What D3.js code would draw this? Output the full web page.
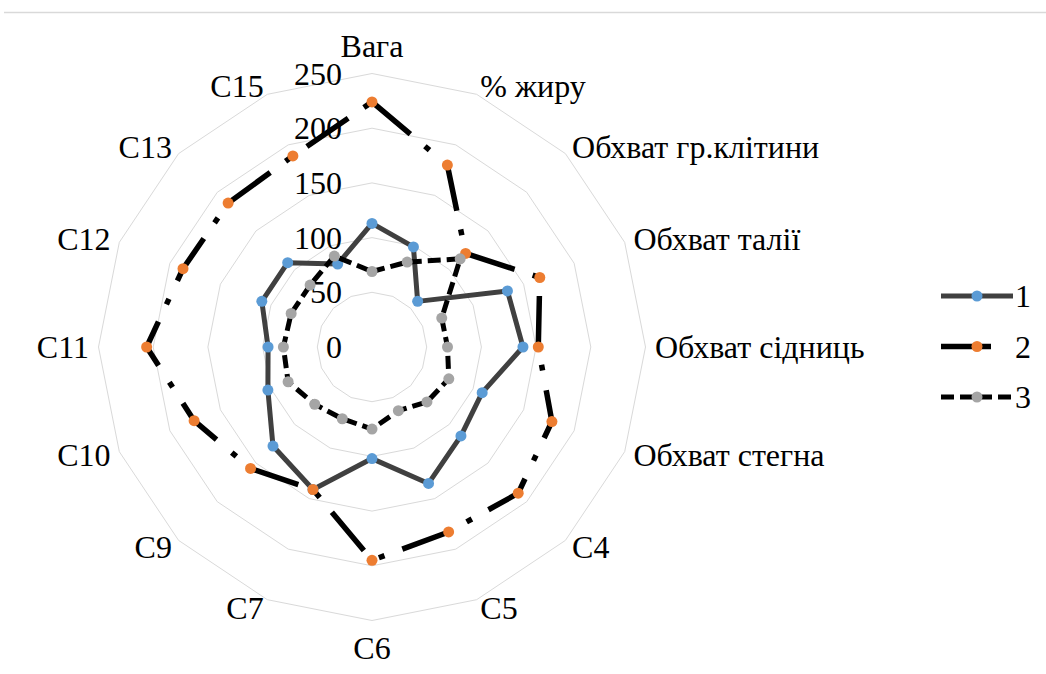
<!DOCTYPE html>
<html>
<head>
<meta charset="utf-8">
<script src="https://cdnjs.cloudflare.com/ajax/libs/d3/7.8.5/d3.min.js"></script>
<style>
  body { margin: 0; background: #fff; }
  text { font-family: "Liberation Serif", "Times New Roman", serif; fill: #000; }
</style>
</head>
<body>
<div id="chart"></div>
<script>
// categories around the radar, clockwise from the top
var categories = ["Вага", "% жиру", "Обхват гр.клітини", "Обхват талії", "Обхват сідниць",
  "Обхват стегна", "C4", "C5", "C6", "C7", "C9", "C10", "C11", "C12", "C13", "C15"];

var series1 = [113, 99, 59, 134, 138, 109, 115, 135, 102, 141, 128, 103, 95, 109, 109, 82];
var series2 = [224, 180, 121, 166, 152, 178, 189, 183, 195, 141, 157, 176, 206, 187, 186, 189];
var series3 = [69, 84, 114, 69, 69, 76, 71, 63, 75, 71, 74, 83, 81, 80, 80, 90];

var seriesNames = ["1", "2", "3"];
var tickValues = [0, 50, 100, 150, 200, 250];

var width = 1046, height = 674;
var cx = 372, cy = 347;
var fontSize = 32;

var svg = d3.select("#chart").append("svg")
  .attr("width", width)
  .attr("height", height);

// thin top border line
svg.append("line")
  .attr("x1", 4).attr("x2", width)
  .attr("y1", 12.5).attr("y2", 12.5)
  .attr("stroke", "#d9d9d9")
  .attr("stroke-width", 1.5);

var r = d3.scaleLinear().domain([0, 250]).range([0, 273.5]);
var step = 2 * Math.PI / categories.length;

var g = svg.append("g")
  .attr("transform", "translate(" + cx + "," + cy + ")");

var radial = d3.lineRadial()
  .angle(function(d, i) { return i * step; })
  .radius(function(d) { return r(d); })
  .curve(d3.curveLinearClosed);

// grid rings
g.selectAll(".ring")
  .data(tickValues.filter(function(t) { return t > 0; }))
  .enter().append("path")
  .attr("class", "ring")
  .attr("d", function(t) { return radial(categories.map(function() { return t; })); })
  .attr("fill", "none")
  .attr("stroke", "#d9d9d9")
  .attr("stroke-width", 1);

// ring value labels
g.selectAll(".tick")
  .data(tickValues)
  .enter().append("text")
  .attr("class", "tick")
  .attr("x", -30)
  .attr("y", function(t) { return -r(t); })
  .attr("text-anchor", "end")
  .attr("dominant-baseline", "central")
  .style("font-size", fontSize + "px")
  .text(function(t) { return t; });

// category labels
var labelR = 283;
g.selectAll(".cat")
  .data(categories)
  .enter().append("text")
  .attr("class", "cat")
  .attr("x", function(d, i) { return labelR * Math.sin(i * step); })
  .attr("y", function(d, i) {
    var s = Math.sin(i * step), c = Math.cos(i * step);
    var y = -labelR * c;
    if (Math.abs(s) < 0.1) y -= c * 18;
    return y;
  })
  .attr("text-anchor", function(d, i) {
    var s = Math.sin(i * step);
    return s > 0.1 ? "start" : (s < -0.1 ? "end" : "middle");
  })
  .attr("dominant-baseline", "central")
  .style("font-size", fontSize + "px")
  .text(function(d) { return d; });

var styles = [
  {data: series1, line: "#404040", marker: "#5B9BD5", dash: null, width: 5},
  {data: series2, line: "#000000", marker: "#ED7D31", dash: "50 19 6 20", width: 5.5},
  {data: series3, line: "#000000", marker: "#A5A5A5", dash: "13 6", width: 5}
];

styles.forEach(function(s) {
  g.append("path")
    .attr("d", radial(s.data))
    .attr("fill", "none")
    .attr("stroke", s.line)
    .attr("stroke-width", s.width)
    .attr("stroke-dasharray", s.dash)
    .attr("stroke-linejoin", "round");

  g.selectAll(null)
    .data(s.data)
    .enter().append("circle")
    .attr("cx", function(d, i) { return r(d) * Math.sin(i * step); })
    .attr("cy", function(d, i) { return -r(d) * Math.cos(i * step); })
    .attr("r", 5.5)
    .attr("fill", s.marker);
});

// legend
var legend = svg.append("g");
var legendEnd = [1013, 1004, 1013];
styles.forEach(function(s, k) {
  var ly = 296 + k * 50.5;
  legend.append("line")
    .attr("x1", 941).attr("x2", legendEnd[k])
    .attr("y1", ly).attr("y2", ly)
    .attr("stroke", s.line)
    .attr("stroke-width", s.width)
    .attr("stroke-dasharray", s.dash);
  legend.append("circle")
    .attr("cx", 977).attr("cy", ly)
    .attr("r", 5.5)
    .attr("fill", s.marker);
  legend.append("text")
    .attr("x", 1015).attr("y", ly)
    .attr("dominant-baseline", "central")
    .style("font-size", fontSize + "px")
    .text(seriesNames[k]);
});
</script>
</body>
</html>
